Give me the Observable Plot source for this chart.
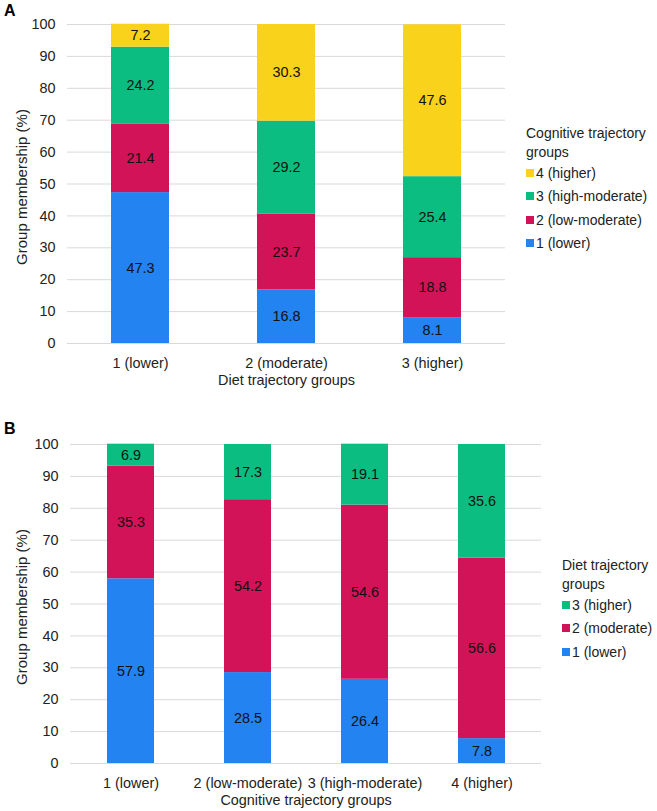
<!DOCTYPE html>
<html>
<head>
<meta charset="utf-8">
<script src="https://cdn.jsdelivr.net/npm/d3@7"></script>
<script src="https://cdn.jsdelivr.net/npm/@observablehq/plot@0.6"></script>
<style>
  html, body { margin: 0; padding: 0; background: #fff; }
  #root { position: relative; width: 657px; height: 811px; font-family: "Liberation Sans", Arial, sans-serif; color: #222; overflow: hidden; }
  .panel { position: absolute; left: 0; }
  .letter { position: absolute; font-weight: bold; font-size: 16px; line-height: 16px; color: #000; }
  .lg { position: absolute; font-size: 14px; color: #222; white-space: nowrap; display: flex; align-items: center; }
  .lg .sw { width: 8px; height: 8px; margin-right: 2px; display: inline-block; }
</style>
</head>
<body>
<div id="root"></div>
<script>
// Panel A: diet trajectory groups (x) by cognitive trajectory groups (stack)
const dietGroups = ["1 (lower)", "2 (moderate)", "3 (higher)"];
const cogGroupsA = ["1 (lower)", "2 (low-moderate)", "3 (high-moderate)", "4 (higher)"];
// values per cognitive group, in order of dietGroups
const cogA1 = [47.3, 16.8, 8.1];
const cogA2 = [21.4, 23.7, 18.8];
const cogA3 = [24.2, 29.2, 25.4];
const cogA4 = [7.2, 30.3, 47.6];

// Panel B: cognitive trajectory groups (x) by diet trajectory groups (stack)
const cogGroups = ["1 (lower)", "2 (low-moderate)", "3 (high-moderate)", "4 (higher)"];
const dietGroupsB = ["1 (lower)", "2 (moderate)", "3 (higher)"];
const dietB1 = [57.9, 28.5, 26.4, 7.8];
const dietB2 = [35.3, 54.2, 54.6, 56.6];
const dietB3 = [6.9, 17.3, 19.1, 35.6];

const colorsA = ["#2383F0", "#D31357", "#0BBD80", "#F9D21C"];
const colorsB = ["#2383F0", "#D31357", "#0BBD80"];
const yTicks = d3.range(0, 101, 10);

const tableA = [];
[cogA1, cogA2, cogA3, cogA4].forEach((arr, s) => arr.forEach((v, i) => tableA.push({x: dietGroups[i], s: cogGroupsA[s], v})));
const tableB = [];
[dietB1, dietB2, dietB3].forEach((arr, s) => arr.forEach((v, i) => tableB.push({x: cogGroups[i], s: dietGroupsB[s], v})));

function makeChart(table, xDomain, sDomain, colors, opts) {
  return Plot.plot({
    width: 657,
    height: opts.height,
    marginTop: opts.marginTop,
    marginBottom: opts.marginBottom,
    marginLeft: opts.marginLeft,
    marginRight: opts.marginRight,
    style: {fontFamily: '"Liberation Sans", Arial, sans-serif', fontSize: "14.4px", color: "#222", background: "#fff", overflow: "visible"},
    x: {domain: xDomain, paddingInner: 0.6, paddingOuter: 0.3, label: null},
    y: {domain: [0, 100], label: null},
    color: {domain: sDomain, range: colors},
    marks: [
      Plot.gridY(yTicks, {stroke: "#d9d9d9", strokeOpacity: 1, strokeWidth: 1}),
      Plot.barY(table, {x: "x", y: "v", fill: "s", order: sDomain, inset: 0}),
      Plot.text(table, Plot.stackY({x: "x", y: "v", z: "s", order: sDomain, text: d => d.v.toFixed(1), fill: "#111", fontSize: 14.4})),
      Plot.axisY(yTicks, {tickSize: 0, tickPadding: 12, fontSize: 14.4, fill: "#222", label: null}),
      Plot.text(["Group membership (%)"], {frameAnchor: "left", textAnchor: "middle", dx: -(opts.marginLeft - 22), dy: 3, rotate: -90, fontSize: 15, fill: "#222", text: d => d}),
      Plot.axisX({tickSize: 0, tickPadding: 14, fontSize: 14.4, fill: "#222", label: opts.xLabel, labelAnchor: "center", labelArrow: "none", labelOffset: 41})
    ]
  });
}

const root = document.getElementById("root");

const chartA = makeChart(tableA, dietGroups, cogGroupsA, colorsA, {
  height: 395, marginTop: 24, marginBottom: 52, marginLeft: 67, marginRight: 152,
  xLabel: "Diet trajectory groups"
});
const wrapA = document.createElement("div");
wrapA.className = "panel"; wrapA.style.top = "0px";
wrapA.appendChild(chartA);
root.appendChild(wrapA);

const chartB = makeChart(tableB, cogGroups, dietGroupsB, colorsB, {
  height: 411, marginTop: 44, marginBottom: 48, marginLeft: 70, marginRight: 116,
  xLabel: "Cognitive trajectory groups"
});
const wrapB = document.createElement("div");
wrapB.className = "panel"; wrapB.style.top = "400px";
wrapB.appendChild(chartB);
root.appendChild(wrapB);

function letter(t, x, y) {
  const d = document.createElement("div");
  d.className = "letter"; d.textContent = t;
  d.style.left = x + "px"; d.style.top = y + "px";
  root.appendChild(d);
}
letter("A", 4, 3);
letter("B", 4, 421);

// legend rows placed by their vertical centre
function row(html, color, x, cy) {
  const d = document.createElement("div");
  d.className = "lg";
  d.style.left = x + "px"; d.style.top = (cy - 10) + "px"; d.style.height = "20px";
  if (color) {
    const sw = document.createElement("span");
    sw.className = "sw"; sw.style.background = color;
    d.appendChild(sw);
  }
  const t = document.createElement("span");
  t.textContent = html;
  d.appendChild(t);
  root.appendChild(d);
}
function legend(t1, t2, names, colors, x, cy0) {
  row(t1, null, x, cy0);
  row(t2, null, x, cy0 + 19);
  let cy = cy0 + 39.5;
  for (let i = names.length - 1; i >= 0; i--) {
    row(names[i], colors[i], x, cy);
    cy += 23.5;
  }
}
legend("Cognitive trajectory", "groups", cogGroupsA, colorsA, 526, 133);
legend("Diet trajectory", "groups", dietGroupsB, colorsB, 562, 565);
</script>
</body>
</html>
